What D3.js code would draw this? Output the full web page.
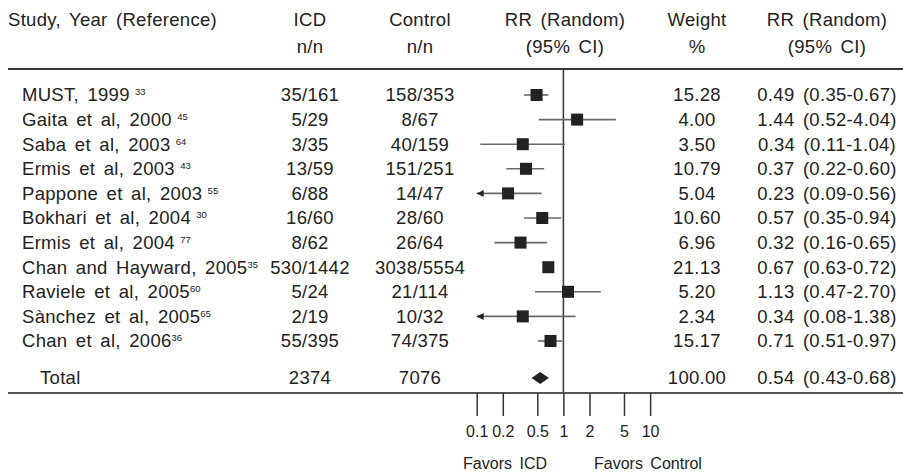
<!DOCTYPE html>
<html>
<head>
<meta charset="utf-8">
<script src="https://cdn.jsdelivr.net/npm/d3@7"></script>
<style>
  body { margin: 0; background: #fff; }
  text { font-family: "Liberation Sans", Arial, sans-serif; fill: #222; }
  .t { font-size: 18.5px; letter-spacing: 0.3px; word-spacing: 3px; }
</style>
</head>
<body>
<div id="forest"></div>
<script>
// Study rows
const studies = ["MUST, 1999", "Gaita et al, 2000", "Saba et al, 2003", "Ermis et al, 2003",
  "Pappone et al, 2003", "Bokhari et al, 2004", "Ermis et al, 2004", "Chan and Hayward, 2005",
  "Raviele et al, 2005", "Sànchez et al, 2005", "Chan et al, 2006"];
// reference numbers; a leading non-breaking space where the original leaves a gap
const refs = ["\u00a0\u00a033", "\u00a0\u00a045", "\u00a0\u00a064", "\u00a0\u00a043", "\u00a0\u00a055",
  "\u00a0\u00a030", "\u00a0\u00a077", "35", "60", "65", "36"];
const icd = ["35/161", "5/29", "3/35", "13/59", "6/88", "16/60", "8/62", "530/1442", "5/24", "2/19", "55/395"];
const control = ["158/353", "8/67", "40/159", "151/251", "14/47", "28/60", "26/64", "3038/5554", "21/114", "10/32", "74/375"];
const weight = [15.28, 4.00, 3.50, 10.79, 5.04, 10.60, 6.96, 21.13, 5.20, 2.34, 15.17];
const rr = [0.49, 1.44, 0.34, 0.37, 0.23, 0.57, 0.32, 0.67, 1.13, 0.34, 0.71];
const lo = [0.35, 0.52, 0.11, 0.22, 0.09, 0.35, 0.16, 0.63, 0.47, 0.08, 0.51];
const hi = [0.67, 4.04, 1.04, 0.60, 0.56, 0.94, 0.65, 0.72, 2.70, 1.38, 0.97];

const total = {label: "Total", icd: "2374", control: "7076", weight: 100.00, rr: 0.54, lo: 0.43, hi: 0.68};

const headers1 = ["Study, Year (Reference)", "ICD", "Control", "RR (Random)", "Weight", "RR (Random)"];
const headers2 = ["", "n/n", "n/n", "(95% CI)", "%", "(95% CI)"];
const axisTicks = [0.1, 0.2, 0.5, 1, 2, 5, 10];

const width = 903;
const height = 474;
const colX = [8, 310, 420, 565, 697, 827];
const fmt = d3.format(".2f");

const svg = d3.select("#forest")
    .append("svg")
    .attr("width", width)
    .attr("height", height);

// scales
const x = d3.scaleLog().domain([0.1, 10]).range([476.7, 650.1]).clamp(true);
const y = d3.scalePoint().domain(studies).range([95, 341]);
const totalY = 378;
const ruleY = 393;

// header
svg.selectAll(".h1").data(headers1).enter()
    .append("text")
    .attr("class", "t")
    .attr("x", (d, i) => colX[i])
    .attr("y", 26)
    .attr("text-anchor", (d, i) => i === 0 ? "start" : "middle")
    .text(d => d);

svg.selectAll(".h2").data(headers2).enter()
    .append("text")
    .attr("class", "t")
    .attr("x", (d, i) => colX[i])
    .attr("y", 53)
    .attr("text-anchor", "middle")
    .text(d => d);

svg.append("line")
    .attr("x1", 8).attr("x2", width)
    .attr("y1", 69).attr("y2", 69)
    .attr("stroke", "#333").attr("stroke-width", 2);

// line of no effect
svg.append("line")
    .attr("x1", x(1)).attr("x2", x(1))
    .attr("y1", 69).attr("y2", ruleY)
    .attr("stroke", "#333").attr("stroke-width", 1.5);

// study rows
const rows = svg.selectAll(".row").data(studies).enter()
    .append("g")
    .attr("class", "row")
    .attr("transform", d => "translate(0," + y(d) + ")");

const label = rows.append("text")
    .attr("class", "t")
    .attr("x", 22)
    .attr("dy", "0.35em");
label.append("tspan").text(d => d);
label.append("tspan")
    .attr("dy", "-0.65em")
    .style("font-size", "9.5px")
    .style("letter-spacing", "0")
    .style("word-spacing", "0")
    .text((d, i) => refs[i]);

rows.append("text")
    .attr("class", "t")
    .attr("x", colX[1]).attr("dy", "0.35em")
    .attr("text-anchor", "middle")
    .text((d, i) => icd[i]);

rows.append("text")
    .attr("class", "t")
    .attr("x", colX[2]).attr("dy", "0.35em")
    .attr("text-anchor", "middle")
    .text((d, i) => control[i]);

rows.append("text")
    .attr("class", "t")
    .attr("x", colX[4]).attr("dy", "0.35em")
    .attr("text-anchor", "middle")
    .text((d, i) => fmt(weight[i]));

rows.append("text")
    .attr("class", "t")
    .attr("x", colX[5]).attr("dy", "0.35em")
    .attr("text-anchor", "middle")
    .text((d, i) => fmt(rr[i]) + " (" + fmt(lo[i]) + "-" + fmt(hi[i]) + ")");

// confidence intervals
rows.append("line")
    .attr("x1", (d, i) => x(lo[i]))
    .attr("x2", (d, i) => x(hi[i]))
    .attr("stroke", "#6a6a6a")
    .attr("stroke-width", 1.6);

// arrows where the interval runs off the left of the axis
rows.filter((d, i) => lo[i] < x.domain()[0])
    .append("path")
    .attr("d", () => {
        const x0 = x.range()[0];
        return "M" + x0 + ",0L" + (x0 + 7) + ",-3.5L" + (x0 + 7) + ",3.5Z";
    })
    .attr("fill", "#222");

const box = 12;
rows.append("rect")
    .attr("x", (d, i) => x(rr[i]) - box / 2)
    .attr("y", -box / 2)
    .attr("width", box)
    .attr("height", box)
    .attr("fill", "#222");

// total row
const tot = svg.append("g").attr("transform", "translate(0," + totalY + ")");
tot.append("text").attr("class", "t").attr("x", 40).attr("dy", "0.35em")
    .text(total.label);
tot.append("text").attr("class", "t").attr("x", colX[1]).attr("dy", "0.35em").attr("text-anchor", "middle")
    .text(total.icd);
tot.append("text").attr("class", "t").attr("x", colX[2]).attr("dy", "0.35em").attr("text-anchor", "middle")
    .text(total.control);
tot.append("text").attr("class", "t").attr("x", colX[4]).attr("dy", "0.35em").attr("text-anchor", "middle")
    .text(fmt(total.weight));
tot.append("text").attr("class", "t").attr("x", colX[5]).attr("dy", "0.35em").attr("text-anchor", "middle")
    .text(fmt(total.rr) + " (" + fmt(total.lo) + "-" + fmt(total.hi) + ")");
tot.append("path")
    .attr("d", "M" + x(total.lo) + ",0L" + x(total.rr) + ",-6L" + x(total.hi) + ",0L" + x(total.rr) + ",6Z")
    .attr("fill", "#222");

// bottom rule and axis
svg.append("line")
    .attr("x1", 8).attr("x2", width)
    .attr("y1", ruleY).attr("y2", ruleY)
    .attr("stroke", "#555").attr("stroke-width", 2);

const xAxis = d3.axisBottom(x)
    .tickValues(axisTicks)
    .tickSize(23)
    .tickPadding(10)
    .tickFormat(d => d);

const axisG = svg.append("g")
    .attr("transform", "translate(0," + ruleY + ")")
    .call(xAxis);
axisG.select(".domain").remove();
axisG.selectAll(".tick line").attr("stroke", "#333").attr("stroke-width", 1.5);
axisG.selectAll(".tick text")
    .style("font-family", "'Liberation Sans', Arial, sans-serif")
    .style("font-size", "16px")
    .attr("fill", "#222");

svg.append("text")
    .attr("x", 547).attr("y", 469)
    .attr("text-anchor", "end")
    .style("font-size", "16px")
    .style("word-spacing", "3px")
    .text("Favors ICD");
svg.append("text")
    .attr("x", 594).attr("y", 469)
    .style("font-size", "16px")
    .style("word-spacing", "3px")
    .text("Favors Control");
</script>
</body>
</html>
